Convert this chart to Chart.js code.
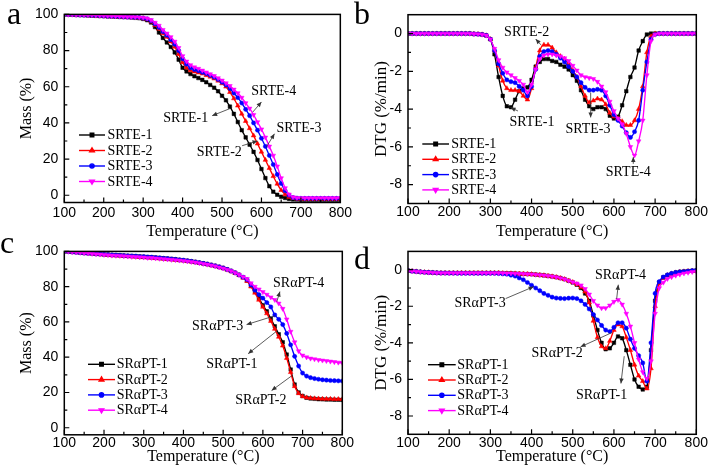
<!DOCTYPE html>
<html><head><meta charset="utf-8">
<script src="https://cdn.jsdelivr.net/npm/chart.js@4.4.1/dist/chart.umd.min.js"></script>
<style>
html,body{margin:0;padding:0;background:#fff;}
#wrap{position:relative;width:708px;height:474px;overflow:hidden;background:#fff;}
canvas{position:absolute;}
</style></head><body>
<div id="wrap">
<canvas id="ca" width="354" height="245" style="left:0;top:0"></canvas>
<canvas id="cb" width="354" height="245" style="left:354px;top:0"></canvas>
<canvas id="cc" width="354" height="237" style="left:0;top:237px"></canvas>
<canvas id="cd" width="354" height="237" style="left:354px;top:237px"></canvas>
</div>
<script>
// ---------- data ----------
const temps = [100,110,120,130,140,150,160,170,180,190,200,210,220,230,240,250,260,270,280,290,300,310,320,330,340,350,360,370,380,390,400,410,420,430,440,450,460,470,480,490,500,510,520,530,540,550,560,570,580,590,600,610,620,630,640,650,660,670,680,690,700,710,720,730,740,750,760,770,780,790,800];

const namesSRTE = ['SRTE-1','SRTE-2','SRTE-3','SRTE-4'];
const namesSRaPT = ['SRαPT-1','SRαPT-2','SRαPT-3','SRαPT-4'];

const xTicks = [100,200,300,400,500,600,700,800];
const massTicks = [0,20,40,60,80,100];
const dtgTicks = [-8,-6,-4,-2,0];

// (a) TG of SRTE
const massSRTE1 = [100,99.9,99.8,99.7,99.6,99.5,99.4,99.3,99.2,99.1,
 99.0,98.9,98.8,98.7,98.6,98.5,98.4,98.3,98.1,97.9,
 97.5,96.8,95.5,93.0,90.0,87.0,84.5,82.0,79.0,75.0,
 70.5,68.5,67.0,65.8,64.8,63.8,62.5,61.0,59.5,57.5,
 55.0,52.5,49.0,45.0,40.5,36.0,32.0,28.0,24.0,19.5,
 14.5,9.5,5.0,2.0,0.3,-0.8,-1.5,-2.0,-2.3,-2.4,
 -2.5,-2.5,-2.5,-2.5,-2.5,-2.5,-2.5,-2.5,-2.5,-2.5,-2.5];
const massSRTE2 = [100,99.9,99.8,99.7,99.6,99.6,99.5,99.4,99.3,99.2,
 99.1,99.0,98.9,98.8,98.7,98.6,98.5,98.4,98.3,98.1,
 97.8,97.2,96.0,94.0,92.0,89.5,87.5,85.0,82.0,78.0,
 73.5,70.5,69.0,68.3,67.8,67.2,66.3,65.5,64.5,63.3,
 61.8,60.0,57.0,53.5,49.5,45.0,41.0,37.0,33.0,28.5,
 24.0,19.5,15.0,10.5,6.3,2.8,0.5,-1.0,-1.6,-1.9,
 -2.0,-2.0,-2.0,-2.0,-2.0,-2.0,-2.0,-2.0,-2.0,-2.0,-2.0];
const massSRTE3 = [100,99.9,99.9,99.8,99.7,99.6,99.6,99.5,99.4,99.3,
 99.2,99.1,99.0,98.9,98.8,98.7,98.6,98.5,98.4,98.3,
 98.0,97.5,96.5,94.8,92.8,90.5,88.5,86.0,83.5,80.0,
 75.5,72.5,70.5,69.5,68.8,68.0,67.3,66.3,65.3,64.0,
 62.5,61.0,59.0,56.5,54.0,51.0,47.5,44.0,40.0,36.0,
 31.5,27.0,22.0,17.0,11.5,6.5,2.5,0.0,-1.3,-1.6,
 -1.7,-1.7,-1.7,-1.7,-1.7,-1.7,-1.7,-1.7,-1.7,-1.7,-1.7];
const massSRTE4 = [100,99.9,99.9,99.8,99.8,99.7,99.6,99.6,99.5,99.4,
 99.3,99.2,99.1,99.0,98.9,98.8,98.7,98.6,98.5,98.4,
 98.2,97.8,97.0,95.5,93.8,91.5,89.5,87.5,85.0,81.5,
 77.0,74.0,72.0,70.8,70.0,69.0,68.0,67.0,66.0,64.8,
 63.5,62.0,60.5,58.5,56.5,54.0,51.0,48.0,44.5,40.5,
 36.5,32.0,27.0,22.0,16.0,9.5,4.0,0.5,-1.0,-1.4,
 -1.5,-1.5,-1.5,-1.5,-1.5,-1.5,-1.5,-1.5,-1.5,-1.5,-1.5];

// (b) DTG of SRTE
const dtgSRTE1 = [0,0,0,0,0,0,0,0,0,0,
 0,0,0,0,0,0,-0.02,-0.03,-0.05,-0.1,
 -0.3,-1.1,-2.3,-3.3,-3.85,-3.9,-3.5,-3.05,-2.9,-2.85,
 -2.45,-1.75,-1.5,-1.35,-1.35,-1.45,-1.5,-1.65,-1.75,-1.9,
 -2.2,-2.5,-3.0,-3.5,-3.85,-4.0,-3.9,-3.9,-4.0,-4.35,
 -4.5,-4.4,-3.8,-3.05,-2.3,-1.8,-0.9,-0.4,-0.05,0,
 0,0,0,0,0,0,0,0,0,0,0];
const dtgSRTE2 = [0,0,0,0,0,0,0,0,0,0,
 0,0,0,0,0,0,-0.02,-0.03,-0.05,-0.1,
 -0.3,-0.9,-1.7,-2.5,-2.9,-3.0,-3.0,-3.05,-3.3,-3.5,
 -2.9,-1.8,-0.9,-0.6,-0.6,-0.75,-1.0,-1.2,-1.35,-1.6,
 -1.95,-2.3,-2.8,-3.3,-3.65,-3.55,-3.45,-3.5,-3.75,-4.2,
 -4.4,-4.5,-4.65,-4.85,-4.85,-4.6,-4.0,-2.8,-1.0,-0.15,
 0,0,0,0,0,0,0,0,0,0,0];
const dtgSRTE3 = [0,0,0,0,0,0,0,0,0,0,
 0,0,0,0,0,0,-0.02,-0.03,-0.05,-0.1,
 -0.3,-0.9,-1.6,-2.1,-2.45,-2.55,-2.6,-2.8,-3.0,-3.3,
 -2.8,-1.9,-1.2,-0.95,-0.9,-0.95,-1.1,-1.3,-1.5,-1.75,
 -2.0,-2.3,-2.6,-2.85,-3.0,-3.0,-2.95,-3.0,-3.3,-3.8,
 -4.3,-4.6,-4.9,-5.25,-5.5,-5.2,-4.6,-3.0,-1.5,-0.3,
 -0.05,0,0,0,0,0,0,0,0,0,0];
const dtgSRTE4 = [0,0,0,0,0,0,0,0,0,0,
 0,0,0,0,0,0,-0.02,-0.03,-0.05,-0.1,
 -0.3,-0.8,-1.4,-1.8,-2.05,-2.2,-2.35,-2.5,-2.7,-3.1,
 -2.7,-1.9,-1.35,-1.15,-1.1,-1.1,-1.15,-1.2,-1.3,-1.45,
 -1.7,-1.95,-2.2,-2.3,-2.35,-2.4,-2.55,-2.8,-3.1,-3.6,
 -4.1,-4.5,-4.8,-5.3,-6.0,-6.45,-5.7,-4.6,-2.2,-0.4,
 -0.05,0,0,0,0,0,0,0,0,0,0];

// (c) TG of SRaPT
const massSRaPT1 = [100,99.9,99.7,99.5,99.3,99.1,98.9,98.8,98.6,98.5,
 98.3,98.2,98.0,97.9,97.8,97.6,97.5,97.4,97.3,97.1,
 97.0,96.8,96.7,96.5,96.3,96.1,95.9,95.7,95.5,95.2,
 95.0,94.7,94.4,94.0,93.6,93.2,92.8,92.3,91.8,91.2,
 90.6,89.8,88.9,87.9,86.7,85.3,83.5,80.5,77.5,73.5,
 69.5,66.0,61.8,57.5,53.0,48.5,41.5,33.0,24.5,20.0,
 18.0,17.0,16.6,16.4,16.2,16.1,16.0,16.0,15.9,15.9,15.8];
const massSRaPT2 = [100,99.9,99.7,99.5,99.3,99.1,98.9,98.7,98.5,98.3,
 98.1,97.9,97.7,97.6,97.5,97.3,97.2,97.0,96.9,96.7,
 96.6,96.4,96.3,96.1,95.9,95.7,95.5,95.3,95.1,94.9,
 94.7,94.4,94.1,93.8,93.4,93.0,92.6,92.1,91.6,91.0,
 90.4,89.6,88.7,87.7,86.5,85.0,83.2,80.0,76.5,72.5,
 68.5,64.8,60.5,56.0,51.5,46.5,39.5,31.5,23.5,19.5,
 17.8,17.1,16.8,16.6,16.5,16.4,16.3,16.3,16.2,16.2,16.2];
const massSRaPT3 = [100,99.9,99.7,99.5,99.3,99.1,98.9,98.8,98.6,98.5,
 98.3,98.2,98.0,97.9,97.8,97.6,97.5,97.4,97.3,97.1,
 97.0,96.8,96.7,96.5,96.3,96.1,95.9,95.7,95.5,95.2,
 95.0,94.7,94.4,94.0,93.6,93.2,92.8,92.3,91.8,91.2,
 90.6,89.8,88.9,87.9,86.7,85.4,84.0,81.0,78.0,75.5,
 73.5,71.0,68.5,64.0,61.5,58.5,53.5,47.0,40.5,35.0,
 31.0,29.3,28.4,27.9,27.5,27.2,27.0,26.8,26.7,26.6,26.5];
const massSRaPT4 = [100,99.9,99.7,99.5,99.3,99.1,98.9,98.7,98.5,98.3,
 98.1,97.9,97.7,97.6,97.5,97.3,97.2,97.0,96.9,96.7,
 96.6,96.4,96.3,96.1,95.9,95.7,95.5,95.3,95.1,94.9,
 94.7,94.4,94.1,93.8,93.4,93.0,92.6,92.1,91.6,91.0,
 90.4,89.7,88.9,87.9,86.8,85.6,84.5,82.0,80.0,78.5,
 77.0,75.5,74.0,72.5,70.5,67.5,61.5,54.5,48.5,43.5,
 41.0,40.0,39.3,38.9,38.5,38.2,37.9,37.6,37.3,37.0,36.8];

// (d) DTG of SRaPT
const dtgSRaPT1 = [-0.05,-0.08,-0.1,-0.12,-0.14,-0.15,-0.16,-0.17,-0.18,-0.18,
 -0.18,-0.18,-0.18,-0.18,-0.18,-0.18,-0.18,-0.18,-0.18,-0.18,
 -0.18,-0.18,-0.18,-0.19,-0.2,-0.2,-0.21,-0.22,-0.23,-0.24,
 -0.25,-0.27,-0.29,-0.31,-0.34,-0.37,-0.41,-0.46,-0.52,-0.6,
 -0.7,-0.82,-1.0,-1.3,-1.7,-2.5,-3.3,-4.0,-4.35,-4.3,
 -4.0,-3.65,-3.75,-4.4,-5.2,-6.0,-6.4,-6.55,-6.4,-4.4,
 -1.7,-0.7,-0.42,-0.3,-0.22,-0.16,-0.12,-0.1,-0.08,-0.06,-0.05];
const dtgSRaPT2 = [-0.05,-0.08,-0.1,-0.12,-0.14,-0.15,-0.16,-0.17,-0.18,-0.18,
 -0.18,-0.18,-0.18,-0.18,-0.18,-0.18,-0.18,-0.18,-0.18,-0.18,
 -0.18,-0.18,-0.18,-0.19,-0.2,-0.2,-0.21,-0.22,-0.23,-0.24,
 -0.25,-0.27,-0.29,-0.31,-0.34,-0.37,-0.41,-0.46,-0.52,-0.6,
 -0.68,-0.8,-0.95,-1.2,-1.8,-2.8,-3.7,-4.2,-4.3,-3.9,
 -3.3,-3.0,-3.1,-3.7,-4.4,-5.2,-5.8,-6.1,-6.5,-5.4,
 -2.0,-0.75,-0.45,-0.3,-0.22,-0.16,-0.12,-0.1,-0.08,-0.06,-0.05];
const dtgSRaPT3 = [-0.05,-0.08,-0.1,-0.12,-0.14,-0.15,-0.16,-0.17,-0.18,-0.18,
 -0.19,-0.19,-0.2,-0.2,-0.2,-0.2,-0.2,-0.2,-0.2,-0.2,
 -0.2,-0.2,-0.21,-0.23,-0.25,-0.3,-0.35,-0.45,-0.55,-0.7,
 -0.85,-1.0,-1.15,-1.3,-1.4,-1.5,-1.55,-1.57,-1.58,-1.56,
 -1.55,-1.58,-1.7,-1.9,-2.15,-2.45,-2.75,-3.05,-3.3,-3.38,
 -3.15,-2.9,-2.9,-3.2,-3.8,-4.3,-4.7,-5.1,-6.1,-4.0,
 -1.3,-0.65,-0.4,-0.28,-0.2,-0.15,-0.12,-0.1,-0.08,-0.05,-0.03];
const dtgSRaPT4 = [-0.05,-0.08,-0.1,-0.12,-0.14,-0.15,-0.16,-0.17,-0.18,-0.18,
 -0.18,-0.18,-0.18,-0.18,-0.18,-0.18,-0.18,-0.18,-0.18,-0.18,
 -0.18,-0.18,-0.18,-0.19,-0.2,-0.2,-0.21,-0.22,-0.23,-0.24,
 -0.25,-0.27,-0.29,-0.31,-0.34,-0.37,-0.41,-0.46,-0.52,-0.6,
 -0.68,-0.75,-0.85,-1.05,-1.35,-1.7,-1.95,-2.1,-2.1,-1.95,
 -1.75,-1.65,-1.9,-2.4,-3.1,-4.0,-4.9,-5.6,-5.95,-5.0,
 -2.4,-1.0,-0.7,-0.5,-0.4,-0.32,-0.26,-0.2,-0.16,-0.12,-0.1];

// ---------- styles ----------
const colors = ['#000000','#ff0000','#0000ff','#ff00ff'];
const pointStyles = ['rect','triangle','circle','triangle'];
const pointRots = [0,0,0,180];
const pointRadii = [2.5,2.7,2.1,2.7];

const SERIF = '"Liberation Serif","Times New Roman",serif';
const SANS = '"Liberation Sans",Arial,sans-serif';

function arrowHead(ctx, x1, y1, x2, y2) {
  const a = Math.atan2(y2 - y1, x2 - x1);
  const L = 5, W = 2.2;
  ctx.beginPath();
  ctx.moveTo(x2, y2);
  ctx.lineTo(x2 - L*Math.cos(a) + W*Math.sin(a), y2 - L*Math.sin(a) - W*Math.cos(a));
  ctx.lineTo(x2 - L*Math.cos(a) - W*Math.sin(a), y2 - L*Math.sin(a) + W*Math.cos(a));
  ctx.closePath();
  ctx.fill();
}

const decoPlugin = {
  id: 'deco',
  afterDraw(chart, args, p) {
    const {ctx, chartArea: ca} = chart;
    const xs = chart.scales.x, ys = chart.scales.y;
    ctx.save();
    ctx.strokeStyle = '#000';
    ctx.lineWidth = 1.5;
    ctx.strokeRect(ca.left, ca.top, ca.right - ca.left, ca.bottom - ca.top);
    ctx.lineWidth = 1.2;
    ctx.beginPath();
    for (let i = 0; i < xTicks.length; i++) {
      const px = xs.getPixelForValue(xTicks[i]);
      ctx.moveTo(px, ca.bottom); ctx.lineTo(px, ca.bottom - 5);
      if (i < xTicks.length - 1) {
        const pm = xs.getPixelForValue((xTicks[i] + xTicks[i+1]) / 2);
        ctx.moveTo(pm, ca.bottom); ctx.lineTo(pm, ca.bottom - 3);
      }
    }
    const yt = p.yTicks;
    const step = yt[1] - yt[0];
    for (let i = 0; i < yt.length; i++) {
      const py = ys.getPixelForValue(yt[i]);
      ctx.moveTo(ca.left, py); ctx.lineTo(ca.left + 5, py);
      [yt[i] - step/2, yt[i] + step/2].forEach((v, k) => {
        if (v > ys.min && v < ys.max && (k === 1 || i === 0)) {
          const pm = ys.getPixelForValue(v);
          ctx.moveTo(ca.left, pm); ctx.lineTo(ca.left + 3, pm);
        }
      });
    }
    ctx.stroke();
    ctx.fillStyle = '#000';
    ctx.font = '32px ' + SERIF;
    ctx.textAlign = 'left'; ctx.textBaseline = 'alphabetic';
    ctx.fillText(p.letter, p.letterX, p.letterY);
    const L = p.legend;
    ctx.font = '14px ' + SERIF;
    ctx.textBaseline = 'middle';
    chart.data.datasets.forEach((ds, i) => {
      const y = L.y0 + i * L.dy;
      ctx.strokeStyle = ds.borderColor; ctx.fillStyle = ds.borderColor;
      ctx.lineWidth = 1.4;
      ctx.beginPath(); ctx.moveTo(L.x0, y); ctx.lineTo(L.x1, y); ctx.stroke();
      Chart.helpers.drawPoint(ctx, {pointStyle: ds.pointStyle, rotation: ds.pointRotation, radius: ds.pointRadius, borderWidth: 0.5}, (L.x0 + L.x1) / 2, y);
      ctx.fillStyle = '#000';
      ctx.fillText(ds.label, L.tx, y + 0.5);
    });
    ctx.font = '14px ' + SERIF;
    ctx.textAlign = 'center'; ctx.textBaseline = 'middle';
    p.notes.forEach(n => {
      ctx.fillStyle = '#000';
      ctx.fillText(n.text, xs.getPixelForValue(n.tx), ys.getPixelForValue(n.ty));
      const ax = xs.getPixelForValue(n.ax), ay = ys.getPixelForValue(n.ay);
      const bx = xs.getPixelForValue(n.bx), by = ys.getPixelForValue(n.by);
      ctx.strokeStyle = '#333'; ctx.fillStyle = '#333'; ctx.lineWidth = 0.8;
      ctx.beginPath(); ctx.moveTo(ax, ay); ctx.lineTo(bx, by); ctx.stroke();
      if (n.head === 'a') arrowHead(ctx, bx, by, ax, ay); else arrowHead(ctx, ax, ay, bx, by);
    });
    ctx.restore();
  }
};

function makePanel(id, p) {
  const datasets = p.series.map((vals, i) => ({
    label: p.names[i],
    data: temps.map((t, j) => ({x: t, y: vals[j]})),
    borderColor: colors[i],
    backgroundColor: colors[i],
    borderWidth: 1.35,
    pointStyle: pointStyles[i],
    pointRotation: pointRots[i],
    pointRadius: pointRadii[i],
    pointBorderWidth: 0.5,
    pointBorderColor: colors[i],
    pointBackgroundColor: colors[i],
    cubicInterpolationMode: 'monotone',
    fill: false,
    order: 4 - i
  }));
  return new Chart(document.getElementById(id), {
    type: 'line',
    data: {datasets},
    plugins: [decoPlugin],
    options: {
      responsive: false, animation: false, devicePixelRatio: 1,
      events: [],
      layout: {autoPadding: false, padding: {left: 0, right: p.padRight, top: p.padTop, bottom: 0}},
      plugins: {legend: {display: false}, tooltip: {enabled: false},
        deco: {letter: p.letter, letterX: p.letterX, letterY: p.letterY, legend: p.legend, notes: p.notes, yTicks: p.yTicks}},
      scales: {
        x: {
          type: 'linear', min: 100, max: 800,
          afterBuildTicks: s => { s.ticks = xTicks.map(v => ({value: v})); },
          afterFit: s => { s.height = p.xH; },
          grid: {display: false, drawTicks: false},
          border: {display: false},
          ticks: {font: {family: SANS, size: 14}, color: '#000', padding: p.xTickPad, maxRotation: 0, autoSkip: false},
          title: {display: true, text: 'Temperature (°C)', color: '#000', font: {family: SERIF, size: 16}, padding: {top: 0, bottom: p.xTitlePad}}
        },
        y: {
          type: 'linear', min: p.ymin, max: p.ymax,
          afterBuildTicks: s => { s.ticks = p.yTicks.map(v => ({value: v})); },
          afterFit: s => { s.width = p.yW; },
          grid: {display: false, drawTicks: false},
          border: {display: false},
          ticks: {font: {family: SANS, size: 14}, color: '#000', padding: 6},
          title: {display: true, text: p.yTitle, color: '#000', font: {family: SERIF, size: p.yTitleSize}, padding: {top: p.yTitlePad, bottom: 0}}
        }
      }
    }
  });
}

makePanel('ca', {
  series: [massSRTE1, massSRTE2, massSRTE3, massSRTE4], names: namesSRTE,
  ymin: -4, ymax: 100, yTicks: massTicks, yTitle: 'Mass (%)', yTitleSize: 16, yTitlePad: 17.5,
  padTop: 12.7, padRight: 11.7, yW: 64.3, xH: 42.5, xTickPad: 2, xTitlePad: 4,
  letter: 'a', letterX: 7, letterY: 24,
  legend: {x0: 79, x1: 105, tx: 107.5, y0: 135, dy: 15.5},
  notes: [
    {text: 'SRTE-1', tx: 408, ty: 42.5, ax: 475, ay: 44, bx: 521, by: 48, head: 'a'},
    {text: 'SRTE-4', tx: 631, ty: 57.6, ax: 600, ay: 51.6, bx: 578, by: 46, head: 'a'},
    {text: 'SRTE-3', tx: 695, ty: 36.8, ax: 633, ay: 34, bx: 612, by: 26.5, head: 'a'},
    {text: 'SRTE-2', tx: 493, ty: 23.6, ax: 551, ay: 27.4, bx: 590, by: 30, head: 'b'}
  ]
});

makePanel('cb', {
  series: [dtgSRTE1, dtgSRTE2, dtgSRTE3, dtgSRTE4], names: namesSRTE,
  ymin: -9, ymax: 1, yTicks: dtgTicks, yTitle: 'DTG (%/min)', yTitleSize: 17, yTitlePad: 17.3,
  padTop: 14.7, padRight: 11.7, yW: 54, xH: 41.5, xTickPad: 0, xTitlePad: 4,
  letter: 'b', letterX: 0, letterY: 24,
  legend: {x0: 68.3, x1: 95, tx: 97.3, y0: 144, dy: 15.3},
  notes: [
    {text: 'SRTE-2', tx: 388, ty: 0.04, ax: 410, ay: -0.29, bx: 423, by: -0.6, head: 'a'},
    {text: 'SRTE-1', tx: 401, ty: -4.7, ax: 367, ay: -4.1, bx: 349, by: -3.92, head: 'b'},
    {text: 'SRTE-3', tx: 537, ty: -5.07, ax: 543.5, ay: -4.44, bx: 543.5, by: -3.12, head: 'a'},
    {text: 'SRTE-4', tx: 635, ty: -7.33, ax: 647, ay: -6.9, bx: 647, by: -6.54, head: 'b'}
  ]
});

makePanel('cc', {
  series: [massSRaPT1, massSRaPT2, massSRaPT3, massSRaPT4], names: namesSRaPT,
  ymin: -4, ymax: 100, yTicks: massTicks, yTitle: 'Mass (%)', yTitleSize: 16, yTitlePad: 17.5,
  padTop: 12.3, padRight: 11.7, yW: 64.3, xH: 39.2, xTickPad: 0, xTitlePad: 8,
  letter: 'c', letterX: 0, letterY: 16,
  legend: {x0: 88, x1: 115, tx: 116.7, y0: 127.3, dy: 15.3},
  notes: [
    {text: 'SRαPT-4', tx: 690, ty: 81.7, ax: 643, ay: 77.2, bx: 635, by: 71.5, head: 'a'},
    {text: 'SRαPT-3', tx: 486, ty: 57.6, ax: 559, ay: 58.5, bx: 630, by: 63.5, head: 'a'},
    {text: 'SRαPT-1', tx: 522, ty: 36.2, ax: 563, ay: 42, bx: 636, by: 55, head: 'a'},
    {text: 'SRαPT-2', tx: 595, ty: 15.5, ax: 622, ay: 21.1, bx: 673, by: 29.5, head: 'a'}
  ]
});

makePanel('cd', {
  series: [dtgSRaPT1, dtgSRaPT2, dtgSRaPT3, dtgSRaPT4], names: namesSRaPT,
  ymin: -9, ymax: 1, yTicks: dtgTicks, yTitle: 'DTG (%/min)', yTitleSize: 17, yTitlePad: 17.3,
  padTop: 7.7, padRight: 11.7, yW: 54, xH: 39.7, xTickPad: 0, xTitlePad: 8,
  letter: 'd', letterX: 0, letterY: 32,
  legend: {x0: 74, x1: 101.7, tx: 103.3, y0: 127.7, dy: 15.3},
  notes: [
    {text: 'SRαPT-4', tx: 616, ty: -0.33, ax: 610.6, ay: -0.82, bx: 606.6, by: -1.6, head: 'a'},
    {text: 'SRαPT-3', tx: 275, ty: -1.86, ax: 337, ay: -1.58, bx: 405, by: -0.93, head: 'b'},
    {text: 'SRαPT-2', tx: 462, ty: -4.55, ax: 519, ay: -4.22, bx: 596, by: -3.43, head: 'a'},
    {text: 'SRαPT-1', tx: 570, ty: -6.87, ax: 617, ay: -6.22, bx: 625, by: -4.73, head: 'a'}
  ]
});
</script>
</body></html>
